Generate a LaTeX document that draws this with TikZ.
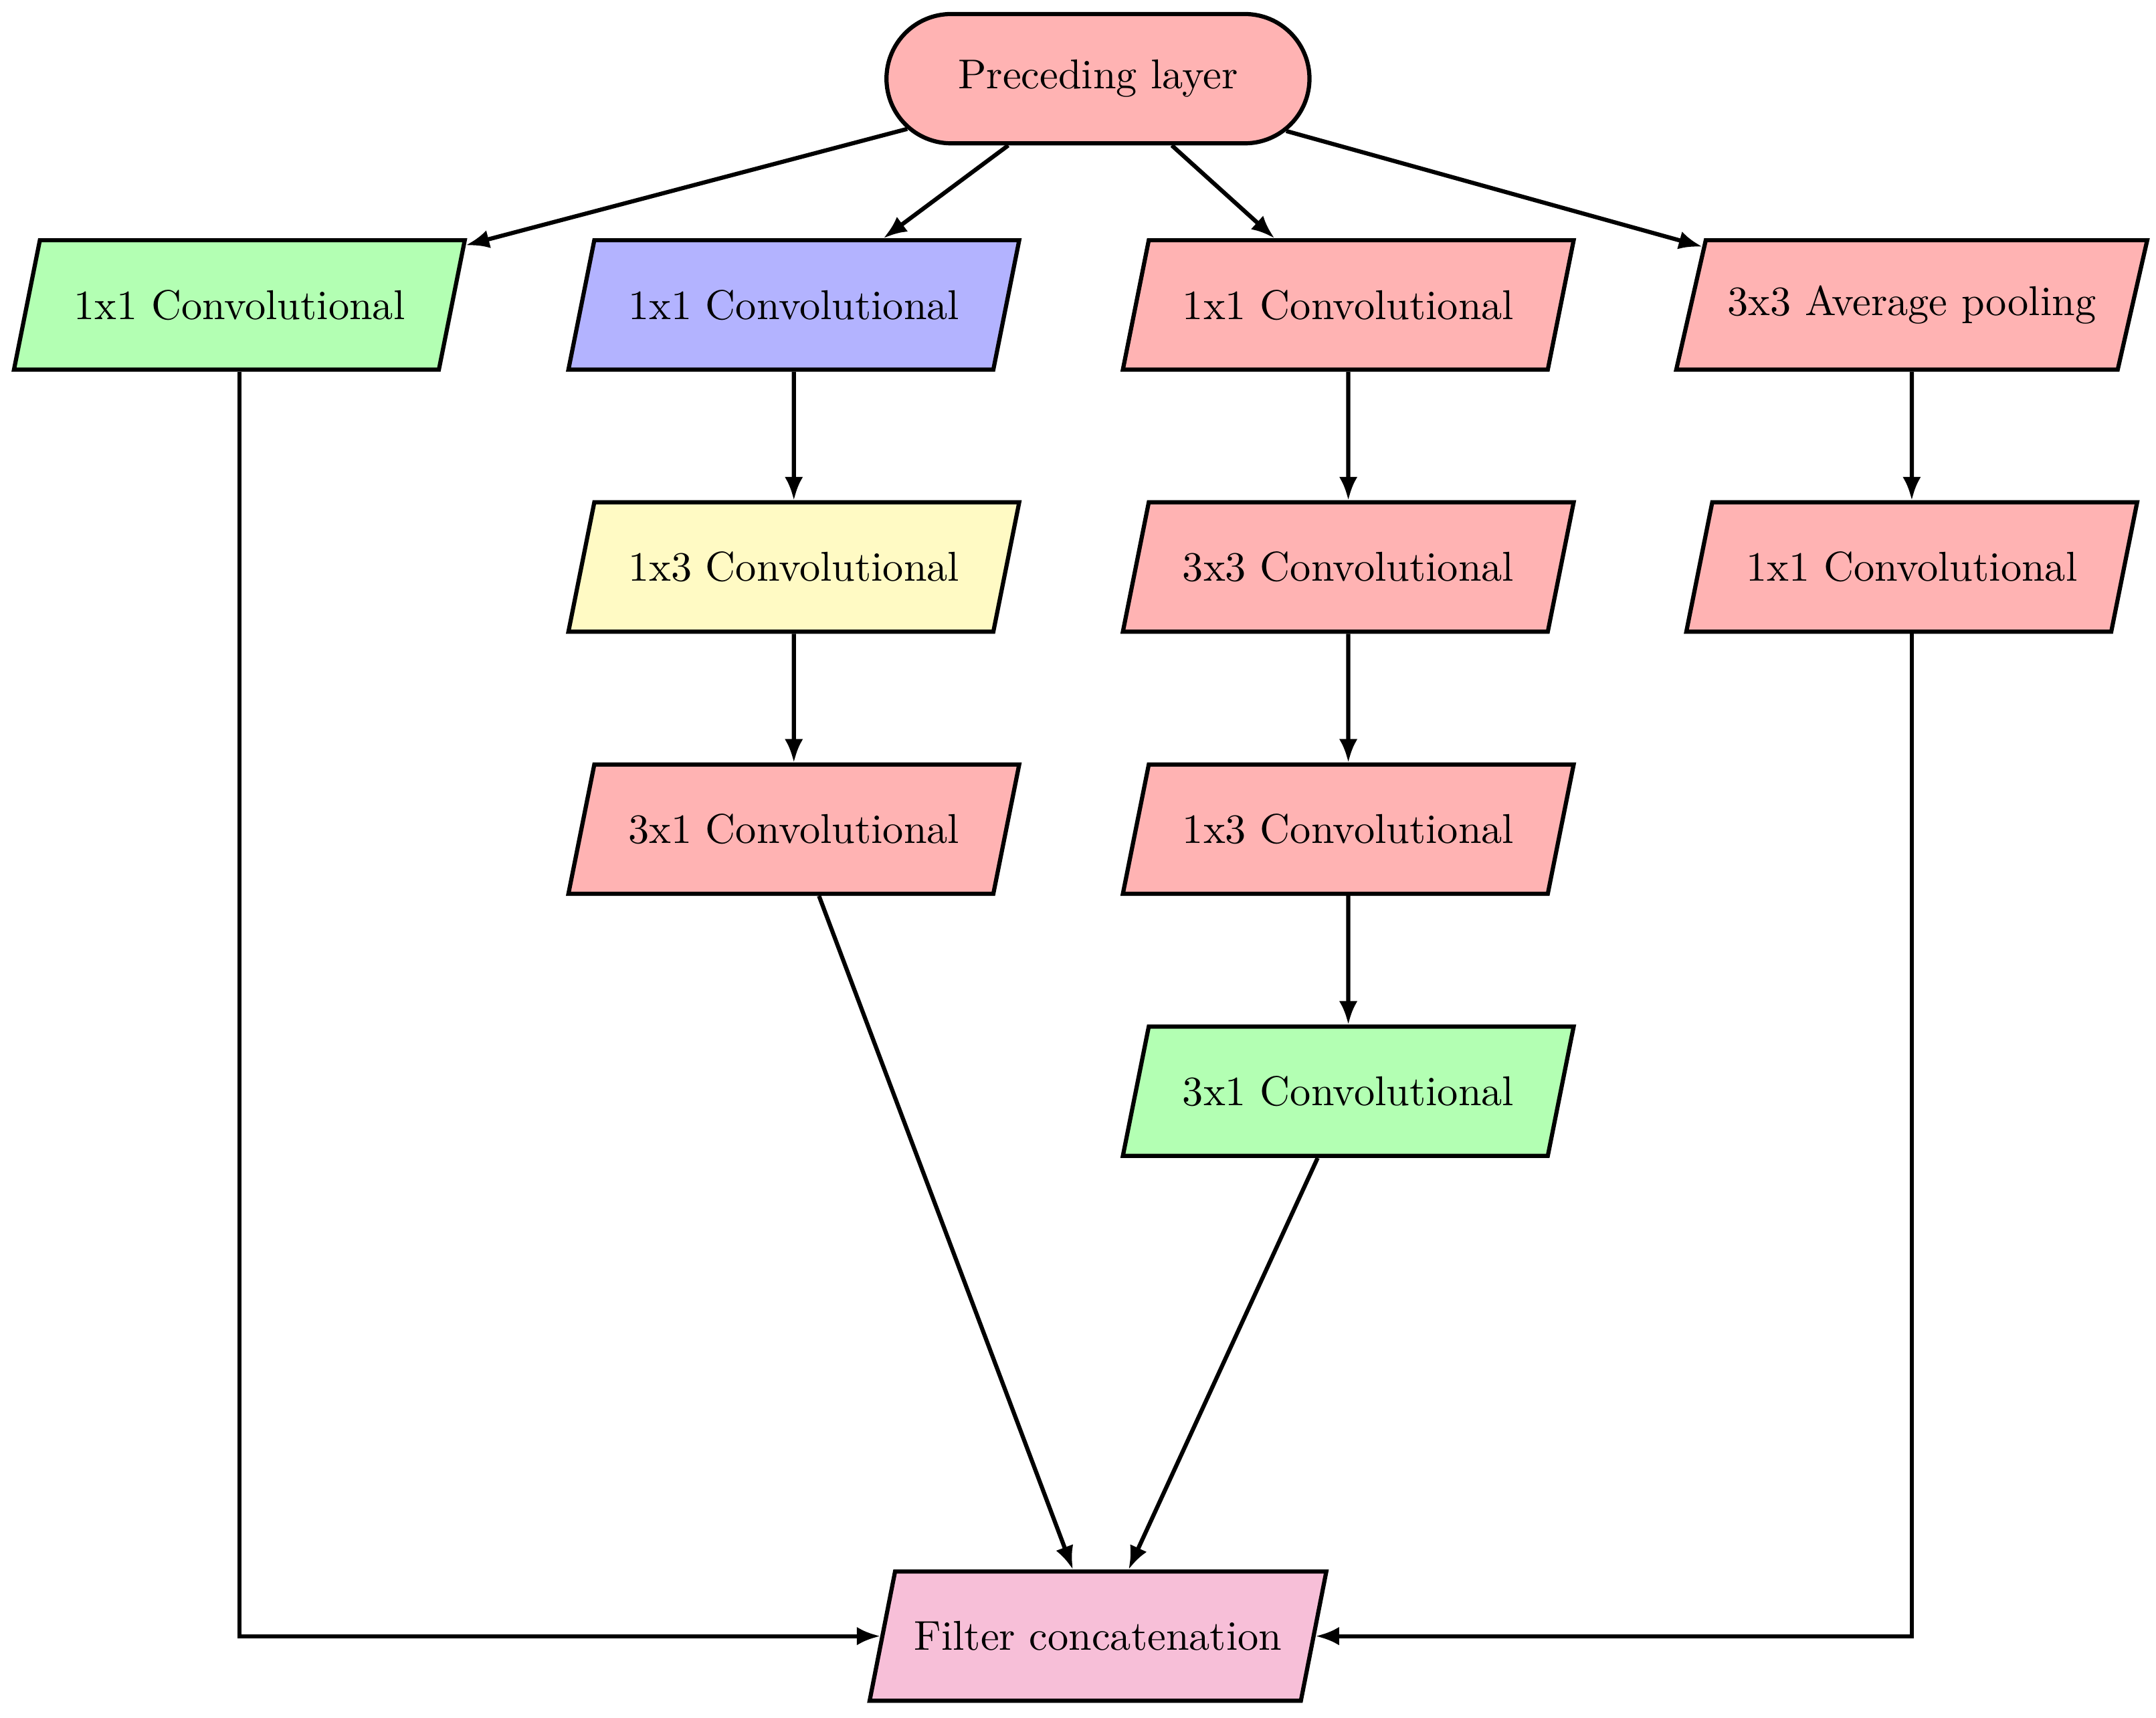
\documentclass[tikz,border=0pt]{standalone}
\usetikzlibrary{shapes.geometric,shapes.misc,arrows.meta}
\definecolor{boxred}{RGB}{255,179,179}
\definecolor{boxgreen}{RGB}{179,255,179}
\definecolor{boxblue}{RGB}{179,179,255}
\definecolor{boxyellow}{RGB}{255,250,196}
\definecolor{boxpink}{RGB}{247,191,216}
\tikzset{
	layer/.style={trapezium,trapezium left angle=66,trapezium right angle=114,trapezium stretches body,draw,line width=1pt,minimum height=1.09cm,minimum width=3.8cm,fill=boxred},
	start/.style={rounded rectangle,draw,line width=1pt,minimum height=1.09cm,minimum width=3.8cm,fill=boxred},
	flow/.style={line width=1pt,->,>={Latex[length=5.6pt,width=4.4pt]}}
}
\begin{document}
\begin{tikzpicture}
		\useasboundingbox (-9.256,.663) rectangle (8.919,-13.817);
		\node[start] (prev) at (0,0) {Preceding layer};
		\node[layer,fill=boxgreen] (g1) at (-7.238,-1.907) {1x1 Convolutional};
		\node[layer,fill=boxblue] (b1) at (-2.564,-1.907) {1x1 Convolutional};
		\node[layer] (c1) at (2.11,-1.907) {1x1 Convolutional};
		\node[layer,minimum width=3.97cm] (d1) at (6.86,-1.907) {3x3 Average pooling};
		\node[layer,fill=boxyellow] (b2) at (-2.564,-4.116) {1x3 Convolutional};
		\node[layer] (c2) at (2.11,-4.116) {3x3 Convolutional};
		\node[layer] (d2) at (6.86,-4.116) {1x1 Convolutional};
		\node[layer] (b3) at (-2.564,-6.326) {3x1 Convolutional};
		\node[layer] (c3) at (2.11,-6.326) {1x3 Convolutional};
		\node[layer,fill=boxgreen] (c4) at (2.11,-8.535) {3x1 Convolutional};
		\node[layer,fill=boxpink,minimum width=3.85cm] (cat) at (0,-13.128) {Filter concatenation};
		\foreach \n in {g1,b1,c1,d1}
			\draw[flow] (prev) -- (\n);
		\draw[flow] (b1) -- (b2);
		\draw[flow] (b2) -- (b3);
		\draw[flow] (c1) -- (c2);
		\draw[flow] (c2) -- (c3);
		\draw[flow] (c3) -- (c4);
		\draw[flow] (d1) -- (d2);
		\draw[flow] (b3) -- (cat);
		\draw[flow] (c4) -- (cat);
		\draw[flow] (g1) |- (cat);
		\draw[flow] (d2) |- (cat);
	\end{tikzpicture}
\end{document}
